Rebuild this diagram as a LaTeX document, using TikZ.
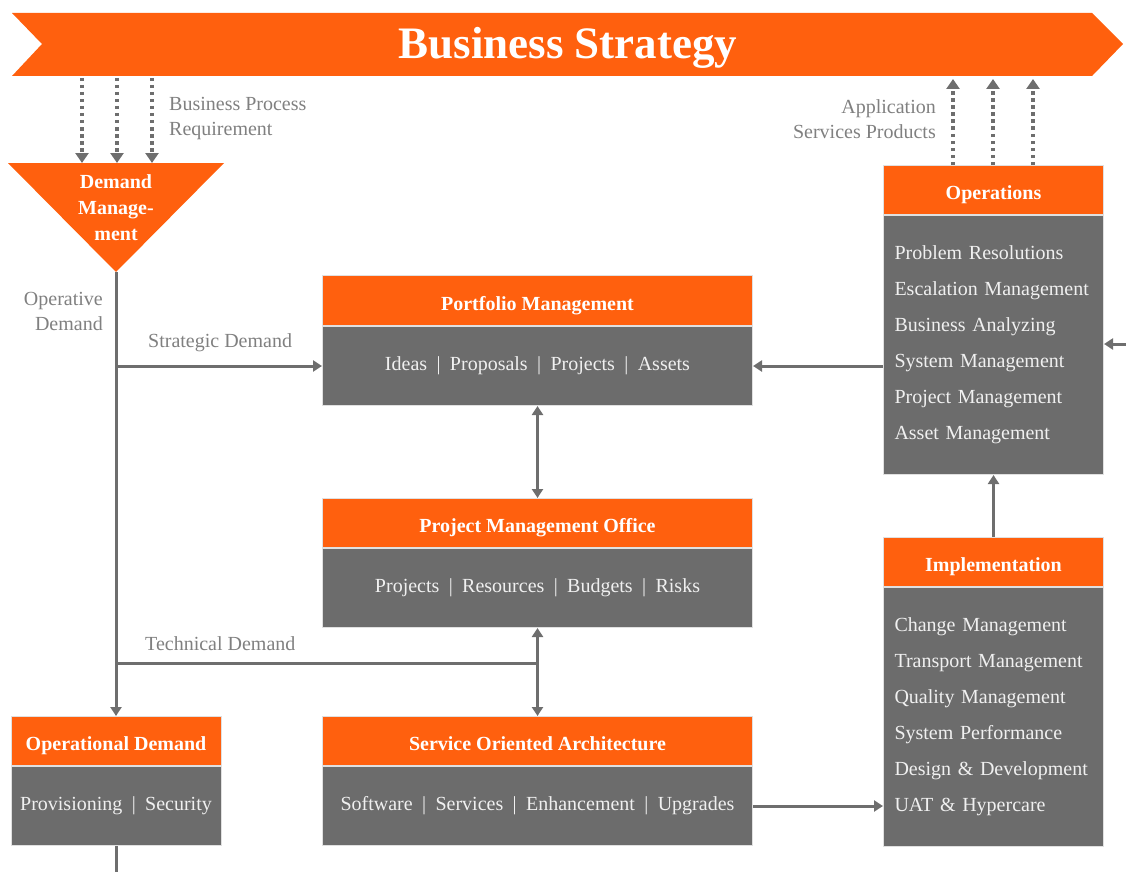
\documentclass[tikz,border=0pt]{standalone}
\usepackage{fontspec}
\setmainfont{Liberation Serif}
\usetikzlibrary{arrows.meta,positioning}
\definecolor{StrategyOrange}{RGB}{255,96,14}
\definecolor{BoxGray}{RGB}{108,108,108}
\definecolor{WireGray}{RGB}{110,110,110}
\definecolor{NoteGray}{RGB}{128,128,128}
\colorlet{BoxBorder}{black!12}
\colorlet{BoxText}{white!94!black}
\newcommand{\barsep}{\hspace{0.47em}|\hspace{0.47em}}

\tikzset{
  boxhead/.style={fill=StrategyOrange, draw=BoxBorder, line width=1pt, text=white,
    font=\bfseries\fontsize{20}{24}\selectfont, inner sep=0pt, text height=19pt, text depth=0pt},
  boxbody/.style={fill=BoxGray, draw=BoxBorder, line width=1pt, text=BoxText,
    font=\fontsize{20}{24}\selectfont, inner sep=0pt},
  boxlist/.style={boxbody, align=left, text width=198pt, font=\fontsize{20}{36}\selectfont},
  note/.style={text=NoteGray, font=\fontsize{20}{25}\selectfont, inner sep=0pt},
  wire/.style={draw=WireGray, line width=3pt},
  dotwire/.style={draw=WireGray, line width=4pt, dash pattern=on 3.5pt off 3.5pt,
    -{Triangle[width=13pt,length=10pt]}},
}

\begin{document}
\begin{tikzpicture}[x=1pt, y=-1pt, >={Triangle[width=11pt,length=9pt]}]

\useasboundingbox (0,0) rectangle (1126,872);

% Banda de estrategia
\fill[StrategyOrange] (12,13) -- (1092,13) -- (1123,44) -- (1092,76) -- (12,76) -- (42,44) -- cycle;
\node[text=white, font=\bfseries\fontsize{45}{50}\selectfont, text height=30pt, text depth=0pt] (strategy) at (568,44) {Business Strategy};

\coordinate (dn1) at (82,78);
\coordinate (dn2) at (117,78);
\coordinate (dn3) at (152,78);
\coordinate (up1) at (953,79);
\coordinate (up2) at (993,79);
\coordinate (up3) at (1033,79);

% Triangulo de demanda
\coordinate (DL) at (8,163);
\coordinate (DR) at (224,163);
\coordinate (DB) at (116,272);
\fill[StrategyOrange] (DL) -- (DR) -- (DB) -- cycle;
\node[text=white, align=center, font=\bfseries\fontsize{20}{26}\selectfont] (demand) at (116,208) {Demand\\Manage-\\ment};

% Cajas
\node[boxhead, minimum width=430, minimum height=50, anchor=north west] (pfh) at (322,275) {Portfolio Management};
\node[boxbody, minimum width=430, minimum height=79, below=0pt of pfh] (pfb) {Ideas\barsep Proposals\barsep Projects\barsep Assets};

\node[boxhead, minimum width=430, minimum height=49, anchor=north west] (pmh) at (322,498) {Project Management Office};
\node[boxbody, minimum width=430, minimum height=79, below=0pt of pmh] (pmb) {Projects\barsep Resources\barsep Budgets\barsep Risks};

\node[boxhead, minimum width=430, minimum height=49, anchor=north west] (soah) at (322,716) {Service Oriented Architecture};
\node[boxbody, minimum width=430, minimum height=79, below=0pt of soah] (soab) {Software\barsep Services\barsep Enhancement\barsep Upgrades};

\node[boxhead, minimum width=210, minimum height=49, anchor=north] (odh) at (116,716) {Operational Demand};
\node[boxbody, minimum width=210, minimum height=79, below=0pt of odh] (odb) {Provisioning\barsep Security};

\node[boxhead, minimum width=220, minimum height=49, anchor=north west] (oph) at (883,165) {Operations};
\node[boxlist, minimum width=220, minimum height=259, below=0pt of oph] (opb)
  {Problem Resolutions\\Escalation Management\\Business Analyzing\\System Management\\Project Management\\Asset Management};

\node[boxhead, minimum width=220, minimum height=49, anchor=north west] (imh) at (883,537) {Implementation};
\node[boxlist, minimum width=220, minimum height=259, below=0pt of imh] (imb)
  {Change Management\\Transport Management\\Quality Management\\System Performance\\Design \& Development\\UAT \& Hypercare};

% Textos
\node[note, align=left, anchor=west] (bpr) at (169,119) {Business Process\\Requirement};
\node[note, align=right, anchor=east] (asp) at (936,119) {Application\\Services Products};
\node[note, align=right, anchor=east] (opd) at (103,311) {Operative\\Demand};
\node[note, anchor=west] (std) at (148,343) {Strategic Demand};
\node[note, anchor=west] (ted) at (145,644) {Technical Demand};

% Flechas punteadas
\draw[dotwire] (dn1) -- (dn1 |- DL);
\draw[dotwire] (dn2) -- (dn2 |- DL);
\draw[dotwire] (dn3) -- (dn3 |- DL);
\draw[dotwire] (up1 |- oph.north) -- (up1);
\draw[dotwire] (up2 |- oph.north) -- (up2);
\draw[dotwire] (up3 |- oph.north) -- (up3);

% Conectores
\coordinate (tj) at (537,663);
\coordinate (ext) at (1126,344);
\draw[wire, ->] (DB) -- (odh.north);
\draw[wire, ->] (DB |- pfb.west) -- (pfb.west);
\draw[wire] (DB |- tj) -- (tj);
\draw[wire, <->] (pfb.south) -- (pmh.north);
\draw[wire, <->] (pmb.south) -- (soah.north);
\draw[wire] (odb.south) -- (odb.south |- 0,872);
\draw[wire, ->] (opb.west |- pfb.east) -- (pfb.east);
\draw[wire, ->] (ext) -- (ext -| opb.east);
\draw[wire, ->] (imh.north) -- (opb.south);
\draw[wire, ->] (soab.east) -- (soab.east -| imb.west);

\end{tikzpicture}
\end{document}
